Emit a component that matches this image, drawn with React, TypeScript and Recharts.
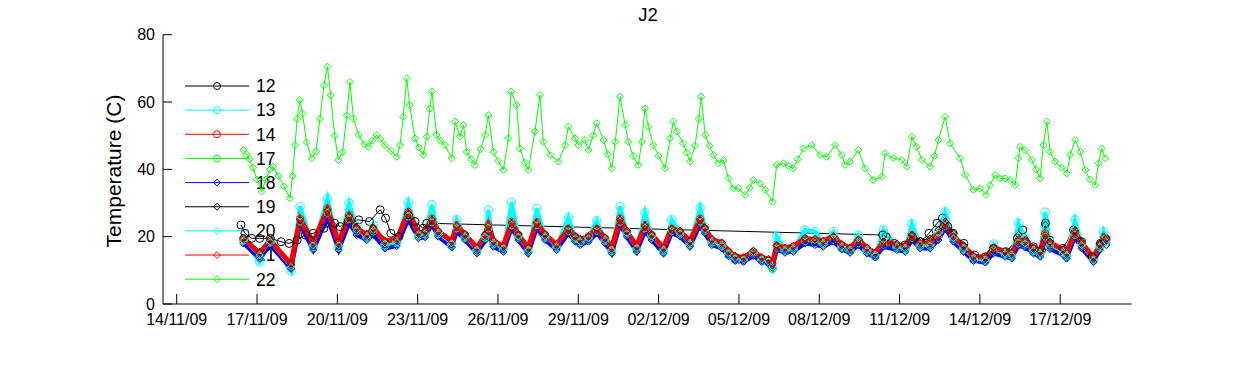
import React from 'react';
import { LineChart, Line, XAxis, YAxis } from 'recharts';

// ---- axis ticks (x = days after 14/11/09) ----
const xTickValues = [0, 3, 6, 9, 12, 15, 18, 21, 24, 27, 30, 33];
const xTickLabels = ['14/11/09', '17/11/09', '20/11/09', '23/11/09', '26/11/09', '29/11/09', '02/12/09', '05/12/09', '08/12/09', '11/12/09', '14/12/09', '17/12/09'];
const yTicks = [0, 20, 40, 60, 80];

// ---- series 22 (top, green diamonds) ----
const t22 = [2.49, 2.60, 2.72, 2.85, 3.00, 3.17, 3.33, 3.49, 3.60, 3.80, 4.00, 4.23, 4.33, 4.42, 4.50, 4.60, 4.70, 4.85, 5.04, 5.20, 5.35, 5.50, 5.63, 5.75, 5.90, 6.04, 6.20, 6.35, 6.47, 6.60, 6.80, 7.00, 7.16, 7.30, 7.47, 7.60, 7.78, 8.00, 8.22, 8.34, 8.46, 8.59, 8.70, 8.90, 9.05, 9.21, 9.34, 9.45, 9.53, 9.71, 9.85, 10.02, 10.27, 10.40, 10.58, 10.71, 10.83, 11.00, 11.14, 11.35, 11.52, 11.64, 11.83, 12.00, 12.20, 12.39, 12.49, 12.70, 12.82, 13.00, 13.13, 13.38, 13.57, 13.69, 13.95, 14.26, 14.51, 14.63, 14.88, 15.00, 15.25, 15.38, 15.55, 15.69, 15.94, 16.10, 16.25, 16.38, 16.56, 16.75, 16.87, 17.05, 17.24, 17.37, 17.49, 17.62, 17.80, 18.00, 18.24, 18.43, 18.55, 18.68, 18.92, 19.05, 19.17, 19.36, 19.50, 19.59, 19.74, 19.90, 20.05, 20.23, 20.42, 20.61, 20.79, 20.98, 21.23, 21.40, 21.54, 21.79, 21.98, 22.25, 22.41, 22.66, 22.85, 23.03, 23.20, 23.41, 23.72, 24.03, 24.28, 24.59, 24.84, 24.96, 25.15, 25.46, 25.71, 26.02, 26.34, 26.46, 26.77, 27.08, 27.27, 27.46, 27.64, 27.83, 28.14, 28.30, 28.45, 28.70, 28.89, 29.26, 29.45, 29.76, 30.01, 30.23, 30.38, 30.57, 30.76, 30.94, 31.13, 31.32, 31.44, 31.50, 31.69, 31.94, 32.10, 32.25, 32.37, 32.50, 32.62, 32.81, 33.05, 33.25, 33.37, 33.56, 33.75, 33.94, 34.10, 34.31, 34.43, 34.55, 34.68];
const v22 = [45.7, 44.5, 43.0, 40.5, 37.0, 33.4, 37.0, 40.0, 40.8, 38.0, 35.0, 31.4, 38.0, 47.2, 55.0, 60.6, 56.6, 48.0, 43.3, 45.2, 55.0, 65.0, 70.5, 62.0, 50.0, 42.8, 45.2, 56.0, 66.0, 55.1, 50.2, 47.5, 46.7, 48.5, 50.2, 49.0, 47.2, 45.5, 43.7, 47.2, 55.6, 67.0, 59.1, 49.2, 46.5, 44.3, 49.7, 58.0, 63.1, 50.2, 48.5, 47.2, 43.3, 54.2, 49.7, 53.2, 45.2, 43.0, 41.3, 46.0, 50.2, 56.1, 45.2, 42.5, 39.8, 49.2, 63.1, 59.1, 46.2, 42.0, 39.8, 51.2, 62.1, 48.2, 44.3, 42.3, 47.2, 52.7, 49.2, 47.2, 48.7, 45.7, 50.0, 53.7, 48.7, 44.5, 40.3, 48.2, 61.6, 53.2, 48.2, 44.0, 41.3, 48.2, 58.1, 52.7, 47.2, 44.0, 40.3, 49.2, 54.2, 51.2, 47.7, 45.0, 42.3, 47.0, 55.0, 61.6, 50.2, 47.0, 44.3, 41.8, 42.8, 37.3, 34.4, 34.4, 32.4, 34.5, 36.8, 35.8, 33.9, 30.4, 41.3, 41.8, 41.0, 40.3, 43.0, 46.2, 47.2, 44.3, 43.7, 47.2, 44.3, 41.3, 42.3, 45.7, 40.3, 36.8, 37.8, 44.8, 43.3, 42.8, 40.8, 49.7, 46.7, 42.8, 40.8, 44.0, 48.7, 55.6, 47.7, 43.3, 38.3, 33.9, 34.4, 32.4, 35.3, 38.3, 37.3, 37.3, 36.8, 35.3, 43.3, 46.7, 45.7, 42.8, 40.0, 37.3, 47.2, 54.2, 45.2, 42.3, 40.5, 38.8, 44.3, 48.7, 45.2, 39.8, 37.0, 35.3, 41.8, 46.2, 43.3];

// ---- lower bundle: shared sample times ----
const lowTimes = [2.49, 3.10, 3.49, 4.27, 4.61, 5.10, 5.63, 6.05, 6.44, 6.72, 7.10, 7.34, 7.78, 8.22, 8.65, 9.03, 9.28, 9.53, 9.77, 10.27, 10.46, 10.77, 11.21, 11.52, 11.64, 11.83, 12.20, 12.51, 12.76, 13.13, 13.45, 13.76, 14.19, 14.63, 14.88, 15.07, 15.38, 15.69, 16.00, 16.25, 16.56, 16.81, 17.18, 17.49, 17.74, 18.18, 18.49, 18.80, 19.17, 19.55, 19.73, 19.99, 20.36, 20.61, 20.86, 21.17, 21.54, 21.85, 22.10, 22.25, 22.41, 22.72, 23.03, 23.47, 23.84, 24.15, 24.53, 24.84, 25.15, 25.46, 25.78, 26.09, 26.40, 26.90, 27.21, 27.46, 27.77, 28.14, 28.45, 28.70, 29.01, 29.39, 29.76, 30.20, 30.51, 30.94, 31.19, 31.44, 31.69, 32.00, 32.25, 32.44, 32.62, 33.12, 33.24, 33.55, 33.80, 34.24, 34.48, 34.62, 34.72];
const v13 = [19.0, 12.5, 18.5, 9.8, 29.0, 17.0, 31.4, 17.0, 30.0, 23.0, 20.0, 23.5, 17.5, 18.5, 30.2, 20.5, 21.0, 29.5, 21.0, 17.5, 25.0, 20.0, 15.8, 20.0, 27.9, 18.0, 16.2, 30.2, 20.5, 15.8, 28.4, 20.0, 17.0, 25.8, 20.0, 18.5, 20.0, 24.8, 19.0, 15.8, 29.0, 21.5, 16.3, 27.2, 20.5, 16.0, 25.0, 21.5, 18.0, 28.6, 23.0, 18.5, 17.5, 14.8, 13.3, 13.0, 15.5, 13.0, 12.3, 10.5, 20.2, 16.0, 16.5, 22.0, 21.5, 18.0, 21.5, 17.0, 16.0, 20.5, 16.0, 14.3, 22.0, 17.0, 16.5, 23.8, 17.5, 17.5, 21.5, 27.4, 20.0, 16.5, 13.3, 13.0, 17.8, 15.0, 14.5, 24.0, 19.5, 16.0, 15.0, 27.3, 18.5, 15.5, 14.5, 25.0, 18.0, 13.0, 17.0, 21.5, 19.5];
const v14 = [19.5, 15.0, 19.0, 11.5, 25.5, 18.0, 28.4, 18.0, 26.5, 22.5, 20.5, 22.5, 18.5, 19.0, 27.4, 21.0, 21.5, 25.4, 21.5, 18.5, 23.5, 20.5, 16.5, 20.5, 23.5, 18.5, 17.0, 24.4, 20.5, 16.5, 24.4, 20.5, 17.5, 22.5, 20.0, 19.0, 20.0, 22.5, 19.5, 16.5, 25.4, 21.5, 17.0, 23.5, 20.5, 16.5, 22.5, 21.5, 18.5, 25.4, 22.5, 19.0, 18.0, 15.5, 14.0, 13.6, 15.5, 13.6, 13.1, 11.6, 17.5, 16.5, 17.0, 19.5, 19.0, 18.5, 20.0, 17.5, 16.5, 19.0, 16.5, 15.0, 18.5, 17.5, 17.0, 20.5, 18.0, 18.0, 20.5, 24.0, 20.0, 17.0, 14.0, 13.6, 16.5, 15.5, 15.0, 19.0, 18.5, 16.5, 15.5, 21.0, 18.0, 16.0, 15.0, 21.5, 18.0, 13.6, 17.5, 20.0, 19.0];
const v17 = [18.8, 14.0, 18.2, 10.5, 24.5, 16.8, 27.0, 16.8, 25.2, 21.5, 19.6, 21.5, 17.5, 18.0, 26.0, 20.2, 20.5, 24.2, 20.6, 17.5, 22.5, 19.6, 15.6, 19.5, 22.5, 17.6, 16.0, 23.4, 19.6, 15.6, 23.4, 19.6, 16.6, 21.6, 19.2, 18.2, 19.0, 21.6, 18.6, 15.6, 24.4, 20.6, 16.0, 22.5, 19.6, 15.5, 21.6, 20.6, 17.6, 24.5, 21.6, 18.0, 17.0, 14.5, 13.0, 12.8, 14.6, 12.8, 12.2, 10.5, 16.5, 15.6, 16.0, 18.6, 18.0, 17.6, 19.0, 16.5, 15.6, 18.0, 15.5, 14.0, 17.5, 16.5, 16.0, 19.6, 17.0, 17.0, 19.6, 23.0, 19.0, 16.0, 13.0, 12.5, 15.5, 14.6, 14.0, 18.0, 17.6, 15.6, 14.6, 20.0, 17.0, 15.0, 14.0, 20.5, 17.0, 12.8, 16.6, 19.0, 18.2];
const v18 = [18.0, 13.5, 17.5, 10.5, 23.5, 16.0, 25.5, 16.0, 24.0, 20.5, 19.0, 20.5, 16.5, 17.2, 25.0, 19.5, 19.8, 23.5, 20.0, 16.8, 21.5, 19.0, 15.0, 18.8, 21.5, 17.0, 15.5, 22.5, 19.0, 15.0, 22.5, 19.0, 16.0, 21.0, 18.5, 17.5, 18.5, 21.0, 18.0, 15.0, 23.5, 20.0, 15.5, 21.5, 19.0, 15.0, 21.0, 20.0, 17.0, 23.5, 21.0, 17.5, 16.5, 14.2, 12.8, 12.5, 14.2, 12.5, 12.0, 10.8, 16.0, 15.2, 15.5, 18.0, 17.5, 17.0, 18.5, 16.2, 15.2, 17.5, 15.0, 13.8, 17.0, 16.0, 15.5, 19.0, 16.5, 16.5, 19.0, 22.5, 18.5, 15.5, 12.8, 12.3, 15.0, 14.0, 13.5, 17.3, 16.8, 15.0, 14.0, 19.0, 16.3, 14.5, 13.5, 19.8, 16.5, 12.5, 16.0, 18.5, 17.5];
const v19 = [19.8, 15.5, 19.2, 12.0, 25.0, 18.5, 27.8, 18.5, 26.0, 22.8, 20.8, 22.6, 18.8, 19.3, 27.0, 21.3, 21.7, 25.0, 21.7, 18.8, 23.2, 20.8, 16.8, 20.6, 23.2, 18.8, 17.3, 24.0, 20.8, 16.8, 24.0, 20.8, 17.8, 22.4, 20.2, 19.3, 20.2, 22.4, 19.8, 16.8, 25.0, 21.8, 17.3, 23.2, 20.8, 16.8, 22.4, 21.8, 18.8, 25.0, 22.6, 19.3, 18.3, 15.8, 14.3, 13.9, 15.8, 13.9, 13.4, 12.0, 17.4, 16.8, 17.3, 19.6, 19.3, 18.8, 20.2, 17.8, 16.8, 19.2, 16.8, 15.3, 18.6, 17.8, 17.3, 20.6, 18.8, 19.5, 22.0, 24.5, 21.0, 17.5, 14.3, 13.9, 16.8, 15.8, 15.3, 20.5, 19.0, 16.8, 15.8, 23.5, 18.5, 16.3, 15.3, 21.8, 18.5, 14.0, 18.0, 20.5, 19.6];
const v20 = [19.0, 14.5, 18.5, 11.0, 26.0, 17.4, 29.0, 17.4, 27.0, 22.0, 20.0, 22.0, 18.0, 18.4, 28.0, 20.5, 21.0, 26.0, 21.0, 18.0, 24.0, 20.0, 16.0, 20.0, 24.5, 18.0, 16.5, 25.5, 20.0, 16.0, 25.0, 20.0, 17.0, 23.0, 19.5, 18.5, 19.5, 23.0, 19.0, 16.0, 26.5, 21.0, 16.5, 24.5, 20.0, 16.0, 23.0, 21.0, 18.0, 26.0, 22.0, 18.5, 17.5, 15.0, 13.5, 13.2, 15.5, 13.2, 12.6, 11.0, 18.0, 16.0, 16.5, 20.0, 19.0, 18.0, 20.5, 17.0, 16.0, 19.5, 16.0, 14.5, 19.0, 17.0, 16.5, 21.5, 17.5, 17.5, 21.0, 25.0, 19.5, 16.5, 13.5, 13.0, 16.5, 15.0, 14.5, 20.0, 18.0, 16.0, 15.0, 22.5, 17.5, 15.5, 14.5, 22.5, 17.5, 13.0, 17.0, 20.5, 18.5];
const v21 = [19.2, 15.2, 18.8, 11.8, 25.2, 18.2, 28.0, 18.2, 26.2, 22.3, 20.6, 22.3, 18.7, 19.2, 27.0, 21.2, 21.4, 25.0, 21.6, 18.7, 23.2, 20.6, 16.7, 20.4, 23.2, 18.7, 17.2, 24.0, 20.6, 16.7, 24.0, 20.6, 17.7, 22.3, 20.1, 19.2, 20.1, 22.3, 19.6, 16.7, 25.0, 21.6, 17.2, 23.2, 20.6, 16.7, 22.3, 21.6, 18.7, 25.0, 22.4, 19.2, 18.2, 15.7, 14.2, 13.8, 15.7, 13.8, 13.3, 11.9, 17.3, 16.7, 17.2, 19.4, 19.2, 18.7, 20.1, 17.7, 16.7, 19.1, 16.7, 15.2, 18.4, 17.7, 17.2, 20.4, 18.2, 18.2, 20.5, 23.6, 20.1, 17.2, 14.2, 13.8, 16.6, 15.7, 15.2, 19.0, 18.7, 16.7, 15.7, 20.6, 18.2, 16.2, 15.2, 21.2, 18.2, 13.8, 17.6, 19.8, 19.2];

// ---- series 12 (black circles, with a long gap) ----
const t12 = [2.40, 2.55, 2.80, 3.10, 3.50, 3.90, 4.20, 4.50, 4.80, 5.10, 5.50, 5.90, 6.10, 6.40, 6.80, 7.20, 7.60, 7.80, 8.00, 8.30, 8.65, 8.90, 9.20, 9.34, 26.37, 26.50, 26.80, 27.20, 27.50, 27.80, 28.10, 28.40, 28.60, 28.80, 29.00, 29.40, 29.80, 30.20, 30.50, 31.00, 31.40, 31.60, 32.00, 32.30, 32.45, 32.60, 33.10, 33.50, 33.80, 34.20, 34.50, 34.70];
const v12 = [23.5, 21.0, 19.5, 19.5, 19.5, 18.5, 18.0, 19.0, 20.5, 21.0, 22.5, 24.0, 23.0, 24.5, 25.0, 24.5, 28.0, 25.5, 21.0, 20.0, 26.5, 24.5, 22.5, 24.0, 20.5, 20.0, 18.0, 17.5, 19.5, 18.5, 21.0, 24.0, 25.5, 23.0, 21.0, 18.0, 14.5, 14.0, 16.5, 15.5, 19.5, 22.0, 17.0, 16.0, 24.0, 19.0, 16.5, 22.0, 18.5, 14.0, 18.0, 19.5];

const legendNames = ['12', '13', '14', '17', '18', '19', '20', '21', '22'];
const legendColors = ['#000000', '#00ffff', '#ff0000', '#00ff00', '#0000ff', '#000000', '#00ffff', '#ff0000', '#00ff00'];
const legendMarkers = ['circle', 'circle', 'circle', 'circle', 'diamond', 'diamond', 'diamond', 'diamond', 'diamond'];

const FONT = '"Liberation Sans", Arial, Helvetica, sans-serif';

const pts = (ts: number[], vs: number[]) => ts.map((t, i) => ({ t, v: vs[i] }));

const circleDot = (color: string, r: number) => (props: any) => {
  const { cx, cy, index } = props;
  if (cx == null || cy == null) return <g key={`e${index}`} />;
  return <circle key={`c${index}`} cx={cx} cy={cy} r={r} fill="none" stroke={color} strokeWidth={1} />;
};
const diamondDot = (color: string, s: number) => (props: any) => {
  const { cx, cy, index } = props;
  if (cx == null || cy == null) return <g key={`e${index}`} />;
  return (
    <path key={`d${index}`} d={`M${cx},${cy - s}L${cx + s},${cy}L${cx},${cy + s}L${cx - s},${cy}Z`} fill="none" stroke={color} strokeWidth={1} />
  );
};

const data12 = pts(t12, v12);
const data13 = pts(lowTimes, v13);
const data14 = pts(lowTimes, v14);
const data17 = pts(lowTimes, v17);
const data18 = pts(lowTimes, v18);
const data19 = pts(lowTimes, v19);
const data20 = pts(lowTimes, v20);
const data21 = pts(lowTimes, v21);
const data22 = pts(t22, v22);

const LegendBox = () => (
  <svg width={1250} height={365} style={{ position: 'absolute', left: 0, top: 0 }}>
    {legendNames.map((n, i) => {
      const y = 86 + i * 24.15;
      const c = legendColors[i];
      return (
        <g key={n}>
          <line x1={185} x2={249} y1={y} y2={y} stroke={c} strokeWidth={1} />
          {legendMarkers[i] === 'circle' ? (
            <circle cx={217} cy={y} r={3.5} fill="none" stroke={c} />
          ) : (
            <path d={`M217,${y - 3.5}L220.5,${y}L217,${y + 3.5}L213.5,${y}Z`} fill="none" stroke={c} />
          )}
          <text x={256} y={y + 6.3} fontSize={17.5} fontFamily={FONT} fill="#000">{n}</text>
        </g>
      );
    })}
    <text x={648} y={21} textAnchor="middle" fontSize={18.5} fontFamily={FONT} fill="#000">J2</text>
    <text transform="translate(121,171) rotate(-90)" textAnchor="middle" fontSize={21} fontFamily={FONT} fill="#000">Temperature (C)</text>
  </svg>
);

export default function App() {
  return (
    <div style={{ position: 'absolute', left: 0, top: 0, width: 1250, height: 365, background: '#fff' }}>
      <LegendBox />
      <div style={{ position: 'absolute', left: 0, top: 0 }}>
        <LineChart width={1250} height={365} margin={{ left: 162, right: 118.3, top: 34.7, bottom: 60 }}>
          <XAxis
            type="number"
            dataKey="t"
            domain={[-0.512, 35.67]}
            ticks={xTickValues}
            tickFormatter={(v: number) => xTickLabels[xTickValues.indexOf(v)] ?? ''}
            allowDataOverflow
            height={1}
            tickSize={-10}
            tickMargin={19.5}
            tick={{ fill: '#000', fontSize: 16, fontFamily: FONT }}
            axisLine={{ stroke: '#000' }}
            tickLine={{ stroke: '#000' }}
            interval={0}
          />
          <YAxis
            type="number"
            dataKey="v"
            domain={[0, 80]}
            ticks={yTicks}
            width={1}
            tickSize={-9}
            tickMargin={17}
            tick={{ fill: '#000', fontSize: 16, fontFamily: FONT }}
            axisLine={{ stroke: '#000' }}
            tickLine={{ stroke: '#000' }}
            interval={0}
          />
          <Line data={data12} dataKey="v" type="linear" stroke="#000000" strokeWidth={1} dot={circleDot('#000000', 4)} activeDot={false} isAnimationActive={false} />
          <Line data={data13} dataKey="v" type="linear" stroke="#00ffff" strokeWidth={4} dot={circleDot('#00ffff', 4.2)} activeDot={false} isAnimationActive={false} />
          <Line data={data14} dataKey="v" type="linear" stroke="#ff0000" strokeWidth={5} dot={circleDot('#ff0000', 3.5)} activeDot={false} isAnimationActive={false} />
          <Line data={data17} dataKey="v" type="linear" stroke="#00ff00" strokeWidth={4} dot={circleDot('#00ff00', 3.5)} activeDot={false} isAnimationActive={false} />
          <Line data={data18} dataKey="v" type="linear" stroke="#0000ff" strokeWidth={4} dot={diamondDot('#0000ff', 3.5)} activeDot={false} isAnimationActive={false} />
          <Line data={data19} dataKey="v" type="linear" stroke="#000000" strokeWidth={1} dot={diamondDot('#000000', 3.5)} activeDot={false} isAnimationActive={false} />
          <Line data={data20} dataKey="v" type="linear" stroke="#00ffff" strokeWidth={3} dot={diamondDot('#00ffff', 3.5)} activeDot={false} isAnimationActive={false} />
          <Line data={data21} dataKey="v" type="linear" stroke="#ff0000" strokeWidth={5} dot={diamondDot('#ff0000', 3.5)} activeDot={false} isAnimationActive={false} />
          <Line data={data22} dataKey="v" type="linear" stroke="#00ff00" strokeWidth={1} dot={diamondDot('#00ff00', 3.5)} activeDot={false} isAnimationActive={false} />
        </LineChart>
      </div>
    </div>
  );
}
